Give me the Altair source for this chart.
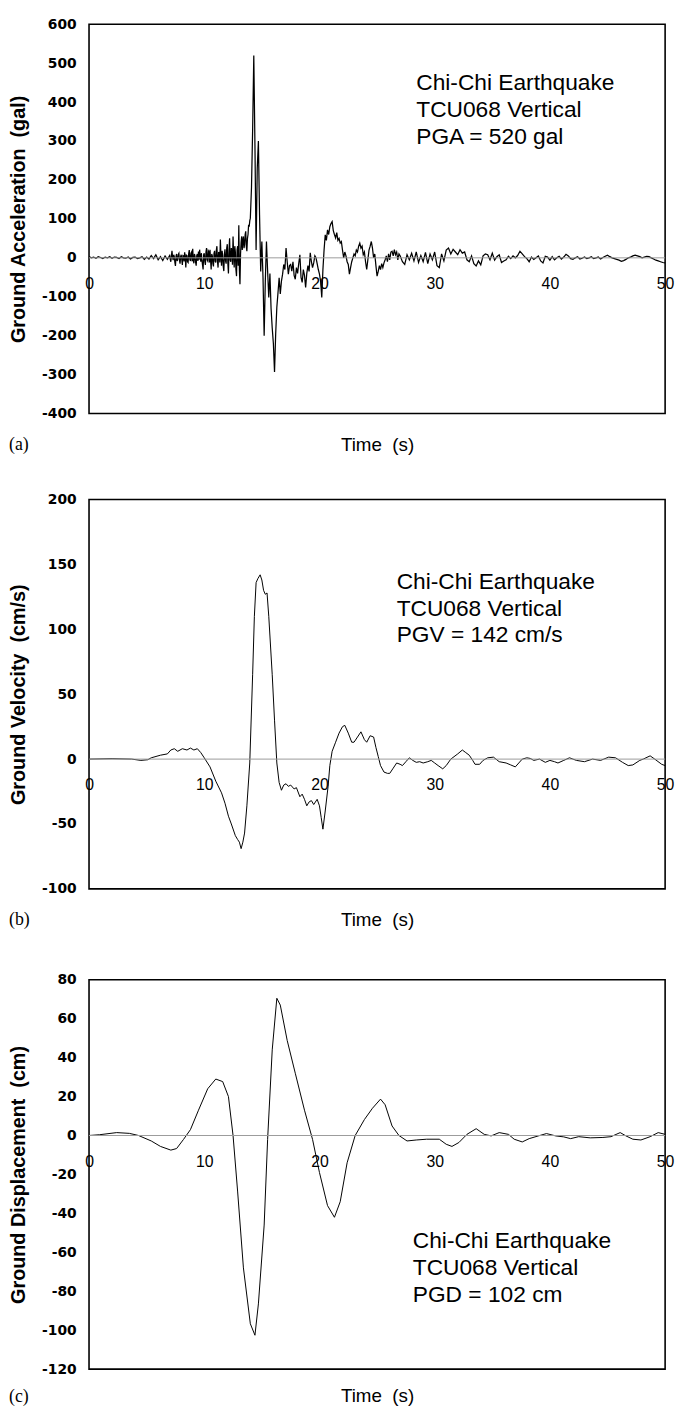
import altair as alt
import pandas as pd

# ---------------- data ----------------
# Acceleration (gal), sampling segments: (start time, step, values)
ACC_SEG1_T0, ACC_SEG1_DT = 0.0, 0.2
ACC_SEG1 = [3, 0, 2, -1, 3, 1, -2, 2, 0, 3, -1, 2, 1, -2, 3, 0, -1, 2, -3, 1,
            2, -2, 0, 3, -4, 2, -3, 6, -2, 8, -5, 3, -7, 5, -4]
ACC_SEG2_T0, ACC_SEG2_DT = 7.0, 0.05
ACC_SEG2 = [
    6, -4, -10, 5, 18, 2, -6, 8, 3, -12, -21, 4, 10, -8, -4, 9, 12, -6, -15, 3,      # 7
    8, -5, -18, 6, 5, -9, 14, 2, -25, 7, 6, -10, -12, 11, 20, -4, -8, 12, 15, -9,    # 8
    23, -6, -14, 10, 4, -12, -20, 6, 10, -8, 16, -5, 21, 3, -10, 12, -6, -18, -30, 8,  # 9
    12, -10, -18, 15, 25, -5, -8, 18, 15, -12, 21, -6, -30, 10, 5, -15, -22, 12, 18, -9,  # 10
    -12, 20, 30, -10, -25, 15, 10, -12, 47, 5, -20, 18, 5, -22, -34, 10, 22, -8, -15, 25,  # 11
    35, -15, -40, 20, 50, -5, -10, 25, 20, -18, 55, 10, -25, 30, 15, -30, -47, 20, 30, -20,  # 12
    84, -30, -68, 10, 40, 55, 20, 45, 55, 25, 34, 60, 68, 30, 17, 50, 60, 85, 80, 95,  # 13
]
ACC_SEG3_T0, ACC_SEG3_DT = 14.0, 0.1
ACC_SEG3 = [
    102, 180, 330, 520, 290, 20, 230, 300, 110, -35,  # 14
    42, -50, -200, -60, 42, -34, -102, -40, -130, -180,  # 15
    -220, -293, -195, -127, -90, -51, -93, -60, -42, -17,  # 16
    -30, 25, -10, -42, -20, -17, -34, -10, -45, -55,  # 17
    -25, -40, -15, 8, -50, -63, -30, -45, -76, -40,   # 18
    -20, -35, 13, -10, -25, -13, 5, 0, -15, -30,      # 19
    -42, -60, -102, -30, 20, 59, 45, 72, 60, 80,      # 20
    88, 93, 70, 60, 51, 65, 45, 50, 38, 42,           # 21
    20, 0, 15, 5, -10, -17, -42, -25, -10, 0,         # 22
    10, 5, 20, 15, 30, 38, 25, 30, 8, 15,             # 23
    -10, -30, -5, 20, 30, 42, 25, 0, 10, -20,         # 24
    -47, -35, -20, -30, -15, -25, -13, -5, 5, -10,    # 25
    10, -5, 15, 17, 5, 21, 8, 15, -5, 10,             # 26
]
ACC_SEG4_T0, ACC_SEG4_DT = 27.0, 0.2
ACC_SEG4 = [
    5, -10, -17, 8, -5,  12, -8, 15, -12, 6,  -10, 14, -15, 10, -5,
    15, -20, -25, 10, -8,  20, 25, 10, 22, 15,  8, 21, 12, 15, -5,
    -10, 5, -15, -21, -8,  -18, 5, 10, 8, -5,  12, -6, 3, 8, -12,
    -8, -5, 4, -2, 5,  0, 6, 17, 10, 3,  -2, -10, 2, -4, 0,
    5, -8, -13, 4, 2,  -6, 3, -5, 0, 4,  -3, 2, 9, 5, -2,
    -4, 0, 3, -3, -1,  2, -2, 0, 3, -2,  0, 2, -3, 1, 4,
    7, 3, 0, -2, -4,  -6, -9, -7, -4, 0,  2, 5, 7, 5, 3,
    0, 2, 4, 3, 0,  -3, -6, -8, -10, -12,  -13,
]

# Velocity (cm/s)
VEL_T = [0, 2, 3.7, 4.5, 5.1, 5.4, 6.2, 6.8, 7.1, 7.4, 7.7, 8.1, 8.5, 8.8, 9.1, 9.4, 9.7,
         10.0, 10.5, 11.0, 11.5, 11.8, 12.1, 12.35, 12.7, 12.9, 13.05, 13.2, 13.35, 13.5,
         13.7, 13.95, 14.2, 14.35, 14.5, 14.65, 14.85, 15.0, 15.15, 15.3, 15.45, 15.6,
         15.9, 16.1, 16.3, 16.5, 16.7, 16.9, 17.1, 17.3, 17.5, 17.8, 18.0, 18.3, 18.5,
         18.7, 18.9, 19.1, 19.3, 19.5, 19.8, 20.0, 20.15, 20.3, 20.5, 20.75, 20.9, 21.1,
         21.4, 21.7, 22.0, 22.2, 22.5, 22.8, 23.0, 23.3, 23.6, 23.9, 24.1, 24.4, 24.7,
         24.9, 25.1, 25.3, 25.6, 25.9, 26.1, 26.4, 26.7, 27.0, 27.2, 27.5, 27.8, 28.1,
         28.4, 28.7, 29.0, 29.4, 29.7, 30.0, 30.3, 30.7, 31.0, 31.4, 32.0, 32.4, 32.7,
         33.0, 33.3, 33.5, 33.9, 34.2, 34.6, 35.1, 35.6, 36.2, 36.6, 37.0, 37.3, 37.6,
         38.0, 38.3, 38.6, 39.1, 39.6, 40.0, 40.4, 40.7, 41.2, 41.7, 42.3, 43.0, 43.7,
         44.4, 45.1, 45.7, 46.3, 46.8, 47.2, 47.8, 48.1, 48.7, 49.1, 49.7, 50.0]
VEL_V = [0, 0.3, 0, -1, -0.5, 1, 3, 4, 7, 8, 6, 8, 7, 8.5, 7, 8, 5,
         1, -6, -17, -26, -34, -44, -50, -59, -62, -64, -69, -64, -57,
         -36, -3, 65, 110, 136, 139, 142, 138, 130, 127, 128, 110,
         65, 30, -3, -18, -24, -20, -19, -21, -20, -23, -22, -29, -27,
         -31, -36, -33, -32, -35, -31, -36, -45, -54, -40, -21, -5, 6,
         13, 20, 25, 26, 20, 13, 13, 17, 21, 15, 13, 18, 17,
         9, 2, -5, -10, -11, -11, -7, -3, -4, -5, -2, 1, -1,
         -2.5, -2, -3, -2, -1, -3, -5, -7.5, -5, 0, 4, 7, 5,
         3, -1, -4, -4, -1, 1, 1.5, -2, -3, -4.5, -6, -3, 0,
         1, 0.5, -1, 0, -2.5, -1, -2, -3, -1, 1, -1, -2, 0,
         -1, 1.5, 1, -2.5, -5, -4.5, -1, 0, 2.5, 0, -4, -5]

# Displacement (cm)
DIS_T = [0, 0.9, 2.4, 3.5, 4.3, 5.4, 6.2, 7.1, 7.6, 8.2, 8.8, 9.5, 10.3, 11.0, 11.6,
         12.1, 12.5, 12.9, 13.4, 14.0, 14.4, 14.7, 15.2, 15.5, 15.9, 16.3, 16.6, 17.2,
         17.9, 18.7, 19.4, 20.0, 20.7, 21.3, 21.8, 22.4, 23.1, 23.9, 24.6, 25.3, 25.7,
         26.3, 26.9, 27.6, 28.4, 29.3, 30.4, 31.0, 31.5, 32.1, 32.8, 33.6, 34.3, 34.9,
         35.6, 36.4, 36.9, 37.6, 38.2, 39.0, 39.7, 40.5, 41.2, 41.8, 42.5, 43.5, 44.6,
         45.3, 46.1, 46.6, 47.2, 47.9, 48.7, 49.4, 50.0]
DIS_V = [0, 0.4, 1.5, 1.1, 0, -2.8, -5.6, -7.5, -6.7, -2, 3, 13, 24, 29, 27.7,
         20, 0, -29, -68, -96.7, -102.6, -86.5, -46, -2, 44, 70.5, 67, 48.8,
         32, 13, -2, -19, -36, -42, -34, -14, 0, 8.2, 14, 18.7, 15.8,
         4.9, 0, -2.8, -2.3, -1.9, -1.9, -4.5, -5.6, -3.6, 0.6, 3.5, 0.6, -0.2,
         1.5, 0.6, -1.9, -3.3, -1.6, -0.2, 1, -0.2, -0.7, -1.6, -0.6, -1.2, -1,
         -0.6, 1.5, -0.2, -1.9, -2.3, -0.6, 1.5, 0.6]

X_TICKS = [0, 10, 20, 30, 40, 50]
ACC_TICKS = [-400, -300, -200, -100, 0, 100, 200, 300, 400, 500, 600]
VEL_TICKS = [-100, -50, 0, 50, 100, 150, 200]
DIS_TICKS = [-120, -100, -80, -60, -40, -20, 0, 20, 40, 60, 80]

NB = "\u00a0"
NOTE_A = ["Chi-Chi Earthquake", "TCU068 Vertical", "PGA = 520 gal"]
NOTE_B = ["Chi-Chi Earthquake", "TCU068 Vertical", "PGV = 142 cm/s"]
NOTE_C = ["Chi-Chi Earthquake", "TCU068 Vertical", "PGD = 102 cm"]

# ---------------- build frames ----------------
acc_t, acc_v = [], []
for t0, dt, vals in [(ACC_SEG1_T0, ACC_SEG1_DT, ACC_SEG1),
                     (ACC_SEG2_T0, ACC_SEG2_DT, ACC_SEG2),
                     (ACC_SEG3_T0, ACC_SEG3_DT, ACC_SEG3),
                     (ACC_SEG4_T0, ACC_SEG4_DT, ACC_SEG4)]:
    for i, v in enumerate(vals):
        acc_t.append(round(t0 + i * dt, 3))
        acc_v.append(v)
acc_df = pd.DataFrame({"t": acc_t, "v": acc_v})
vel_df = pd.DataFrame({"t": VEL_T, "v": VEL_V})
dis_df = pd.DataFrame({"t": DIS_T, "v": DIS_V})

W, H = 583, 394
SANS = "Liberation Sans, Arial, sans-serif"
WIDE = "DejaVu Sans, Liberation Sans, sans-serif"
MINUS_EXPR = "datum.value < 0 ? '-' + abs(datum.value) : '' + datum.value"


def panel(df, dom, ticks, ytitle, note, note_t, note_v, tag, lw, title_gap):
    lo, hi = dom
    below = H * (0 - lo) / (hi - lo)  # pixels from zero line to bottom
    xaxis = alt.Axis(values=X_TICKS, tickCount=len(X_TICKS), offset=-below,
                     domain=False, ticks=False,
                     grid=False, labelFlush=False, labelOverlap=False,
                     labelPadding=18, labelFont=SANS, labelFontSize=16,
                     labelColor="black",
                     title="Time" + NB + " (s)", titleY=below + title_gap,
                     titleFont=SANS, titleFontSize=19, titleFontWeight="normal",
                     titleColor="black")
    yaxis = alt.Axis(values=ticks, tickCount=len(ticks), domain=False, ticks=False,
                     grid=False, labelOverlap=False, labelExpr=MINUS_EXPR,
                     labelPadding=13, labelFont=WIDE, labelFontSize=14,
                     labelFontWeight="bold", labelColor="black",
                     minExtent=45, maxExtent=45, title=ytitle, titleFont=SANS,
                     titleFontSize=20, titleFontWeight="bold", titleColor="black",
                     titlePadding=16)
    xs = alt.Scale(domain=[0, 50], nice=False)
    ys = alt.Scale(domain=[lo, hi], nice=False)
    line = alt.Chart(df).mark_line(color="black", strokeWidth=lw).encode(
        x=alt.X("t:Q", scale=xs, axis=xaxis),
        y=alt.Y("v:Q", scale=ys, axis=yaxis))
    zero = alt.Chart(pd.DataFrame({"z": [0]})).mark_rule(
        color="#9a9a9a", strokeWidth=1).encode(y=alt.Y("z:Q", scale=ys))
    ndf = pd.DataFrame({"t": [note_t], "v": [note_v], "txt": ["\n".join(note)]})
    text = alt.Chart(ndf).mark_text(align="left", baseline="alphabetic",
                                    lineBreak="\n", lineHeight=27, font=SANS,
                                    fontSize=23, color="black").encode(
        x=alt.X("t:Q", scale=xs), y=alt.Y("v:Q", scale=ys), text="txt:N")
    return alt.layer(line, zero, text).properties(
        width=W, height=H,
        title=alt.TitleParams(tag, orient="bottom", anchor="start",
                              font="Liberation Serif", fontSize=18,
                              fontWeight="normal", color="black", offset=-18))


pa = panel(acc_df, (-400, 600), ACC_TICKS, "Ground Acceleration" + NB + " (gal)",
           NOTE_A, 28.4, 430, "(a)", 1.25, 22)
pb = panel(vel_df, (-100, 200), VEL_TICKS, "Ground Velocity" + NB + " (cm/s)",
           NOTE_B, 26.7, 131, "(b)", 1.0, 22)
pc = panel(dis_df, (-120, 80), DIS_TICKS, "Ground Displacement" + NB + " (cm)",
           NOTE_C, 28.1, -58, "(c)", 1.0, 18)

chart = alt.vconcat(alt.vconcat(pa, pb, spacing=37), pc, spacing=42).properties(
    padding={"left": 0, "top": 0, "right": 0, "bottom": 0},
    background="white",
).configure_view(stroke="black", strokeWidth=1.6)

chart.save("out.html", embed_options={"renderer": "svg", "actions": False})
